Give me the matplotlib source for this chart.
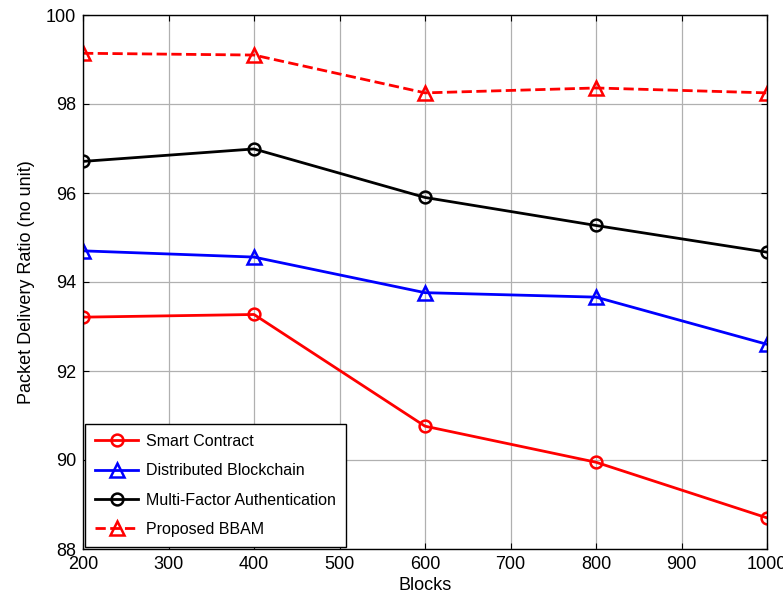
import matplotlib
matplotlib.use("Agg")
import matplotlib.pyplot as plt

plt.rcParams["font.family"] = ["Liberation Sans", "DejaVu Sans"]

blocks = [200, 400, 600, 800, 1000]
smart_contract = [93.21, 93.27, 90.76, 89.95, 88.70]
distributed_blockchain = [94.70, 94.56, 93.76, 93.66, 92.60]
multi_factor = [96.71, 96.99, 95.90, 95.27, 94.67]
proposed_bbam = [99.14, 99.10, 98.25, 98.36, 98.25]

fig = plt.figure(figsize=(7.83, 6.08), dpi=100)
ax = fig.add_axes([83 / 783, 1 - 549 / 608, (767 - 83) / 783, (549 - 15) / 608])

ax.plot(blocks, smart_contract, "r-o", lw=2, ms=8.5, mfc="none", mew=1.8, label="Smart Contract")
ax.plot(blocks, distributed_blockchain, "b-^", lw=2, ms=9.5, mfc="none", mew=1.8,
        label="Distributed Blockchain")
ax.plot(blocks, multi_factor, "k-o", lw=2, ms=8.5, mfc="none", mew=1.8,
        label="Multi-Factor Authentication")
ax.plot(blocks, proposed_bbam, "r--^", lw=2, ms=9.5, mfc="none", mew=1.8, label="Proposed BBAM")

ax.set_xlim(200, 1000)
ax.set_ylim(88, 100)
ax.set_xticks(range(200, 1001, 100))
ax.set_yticks(range(88, 101, 2))
ax.grid(True, color="#b0b0b0", lw=0.9)
ax.tick_params(direction="in", top=True, right=True, labelsize=13, length=4, pad=5)
for spine in ax.spines.values():
    spine.set_linewidth(1.0)

ax.set_xlabel("Blocks", fontsize=13, labelpad=3)
ax.set_ylabel("Packet Delivery Ratio (no unit)", fontsize=13, labelpad=8)

leg = ax.legend(loc="lower left", fontsize=11.5, fancybox=False, edgecolor="black",
                framealpha=1, borderaxespad=0.15, handlelength=2.7, labelspacing=0.9,
                handletextpad=0.5, borderpad=0.6)
leg.get_frame().set_linewidth(1.0)

fig.savefig("out.png", dpi=100)
